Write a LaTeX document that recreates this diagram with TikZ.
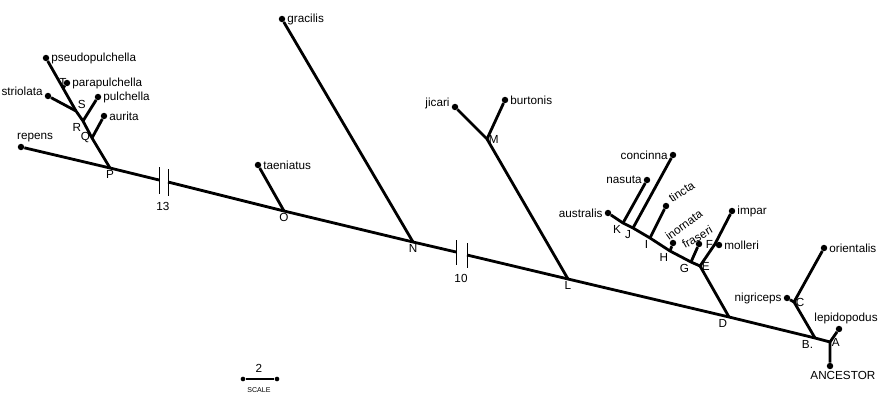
\documentclass[tikz,border=0pt]{standalone}
\usepackage{fontspec}
\setmainfont{Liberation Sans}
\begin{document}
\begin{tikzpicture}[x=0.03cm, y=-0.03cm, font=\fontsize{10}{12}\selectfont,
        branch/.style={line width=2.4pt, line join=round},
        tip/.style={circle, fill, inner sep=0pt, minimum size=5.5pt},
        cut/.style={line width=0.7pt},
        every label/.style={inner sep=1.5pt}]
        \useasboundingbox (0,0) rectangle (887,395);
        % forks
        \coordinate[label distance=1pt, label=right:A] (A) at (830,342);
        \coordinate[label=below left:B.] (B) at (815,338);
        \coordinate[label distance=1pt, label=right:C] (C) at (794,302);
        \coordinate[label=below left:D] (D) at (729,317);
        \coordinate[label distance=1pt, label=right:E] (E) at (700,266);
        \coordinate[label=left:F] (F) at (715,244);
        \coordinate[label=below left:G] (G) at (691,262);
        \coordinate[label=below left:H] (H) at (670,251);
        \coordinate[label=below left:I] (I) at (650,238);
        \coordinate[label=below left:J] (J) at (633,228);
        \coordinate[label=below left:K] (K) at (623,223);
        \coordinate[label=below:L] (L) at (568,279);
        \coordinate[label distance=1pt, label=right:M] (M) at (487,139);
        \coordinate[label=below:N] (N) at (413,242);
        \coordinate[label=below:O] (O) at (284,211);
        \coordinate[label=below:P] (P) at (110,168);
        \coordinate[label=left:Q] (Q) at (92,138);
        \coordinate[label=below left:R] (R) at (83,121);
        \coordinate[label=above right:S] (S) at (76,111);
        \coordinate[label distance=1pt, label=above:T] (T) at (63,88);
        % breaks in the stem
        \coordinate (b13a) at (159,180);
        \coordinate (b13b) at (168,182);
        \coordinate (b10a) at (456,252);
        \coordinate (b10b) at (467,255);
        % tips
        \node[tip, label=right:pseudopulchella] (pseudopulchella) at (46,58) {};
        \node[tip, label=right:parapulchella] (parapulchella) at (67,83) {};
        \node[tip, label={[yshift=4pt]left:striolata}] (striolata) at (48,96) {};
        \node[tip, label=right:pulchella] (pulchella) at (98,97) {};
        \node[tip, label=right:aurita] (aurita) at (104,116) {};
        \node[tip, label={[xshift=12pt]above:repens}] (repens) at (21,147) {};
        \node[tip, label=right:taeniatus] (taeniatus) at (258,165) {};
        \node[tip, label=right:gracilis] (gracilis) at (282,19) {};
        \node[tip, label={[yshift=3pt]left:jicari}] (jicari) at (455,107) {};
        \node[tip, label=right:burtonis] (burtonis) at (505,100) {};
        \node[tip, label=left:concinna] (concinna) at (673,155) {};
        \node[tip, label=left:nasuta] (nasuta) at (647,180) {};
        \node[tip, label=left:australis] (australis) at (608,213) {};
        \node[tip] (tincta) at (666,206) {};
        \node[tip] (inornata) at (673,243) {};
        \node[tip] (fraseri) at (699,244) {};
        \node[tip, label=right:impar] (impar) at (732,211) {};
        \node[tip, label=right:molleri] (molleri) at (719,245) {};
        \node[tip, label=right:orientalis] (orientalis) at (824,248) {};
        \node[tip, label=left:nigriceps] (nigriceps) at (787,298) {};
        \node[tip, label={[xshift=6pt]above:lepidopodus}] (lepidopodus) at (839,329) {};
        \node[tip, label={[xshift=11pt]below:ANCESTOR}] (ANCESTOR) at (830,366) {};
        \node[rotate=33, anchor=base west, inner sep=0pt] (ltincta) at (672,203) {tincta};
        \node[rotate=36, anchor=base west, inner sep=0pt] (linornata) at (669,241) {inornata};
        \node[rotate=30, anchor=base west, inner sep=0pt] (lfraseri) at (685,249) {fraseri};
        % stem
        \draw[branch] (repens) -- (P) -- (b13a);
        \draw[branch] (b13b) -- (O) -- (N) -- (b10a);
        \draw[branch] (b10b) -- (L) -- (D) -- (B) -- (A) -- (ANCESTOR);
        \draw[cut] (b13a) ++(0,-13) -- ++(0,27);
        \draw[cut] (b13b) ++(0,-13) -- ++(0,27);
        \draw[cut] (b10a) ++(0,-12) -- ++(0,25);
        \draw[cut] (b10b) ++(0,-12) -- ++(0,25);
        \node (n13) at (163,206) {13};
        \node (n10) at (461,278) {10};
        % side branches
        \draw[branch] (A) -- (lepidopodus);
        \draw[branch] (B) -- (C) -- (orientalis);
        \draw[branch] (C) -- (nigriceps);
        \draw[branch] (D) -- (E) -- (F) -- (impar);
        \draw[branch] (F) -- (molleri);
        \draw[branch] (E) -- (G) -- (H) -- (I) -- (J) -- (K) -- (australis);
        \draw[branch] (G) -- (fraseri);
        \draw[branch] (H) -- (inornata);
        \draw[branch] (I) -- (tincta);
        \draw[branch] (J) -- (concinna);
        \draw[branch] (K) -- (nasuta);
        \draw[branch] (L) -- (M) -- (jicari);
        \draw[branch] (M) -- (burtonis);
        \draw[branch] (N) -- (gracilis);
        \draw[branch] (O) -- (taeniatus);
        \draw[branch] (P) -- (Q) -- (R) -- (S) -- (T) -- (pseudopulchella);
        \draw[branch] (Q) -- (aurita);
        \draw[branch] (R) -- (pulchella);
        \draw[branch] (S) -- (striolata);
        \draw[branch] (T) -- (parapulchella);
        % scale
        \node[tip, minimum size=4pt] (s1) at (243,379) {};
        \node[tip, minimum size=4pt] (s2) at (277,379) {};
        \draw[branch] (s1) -- (s2);
        \node (two) at (259,368) {2};
        \node[font=\fontsize{6}{7}\selectfont] (scale) at (259,390) {SCALE};
        %\draw[thin, red] (0,0) rectangle (887,395);
\end{tikzpicture}
\end{document}
